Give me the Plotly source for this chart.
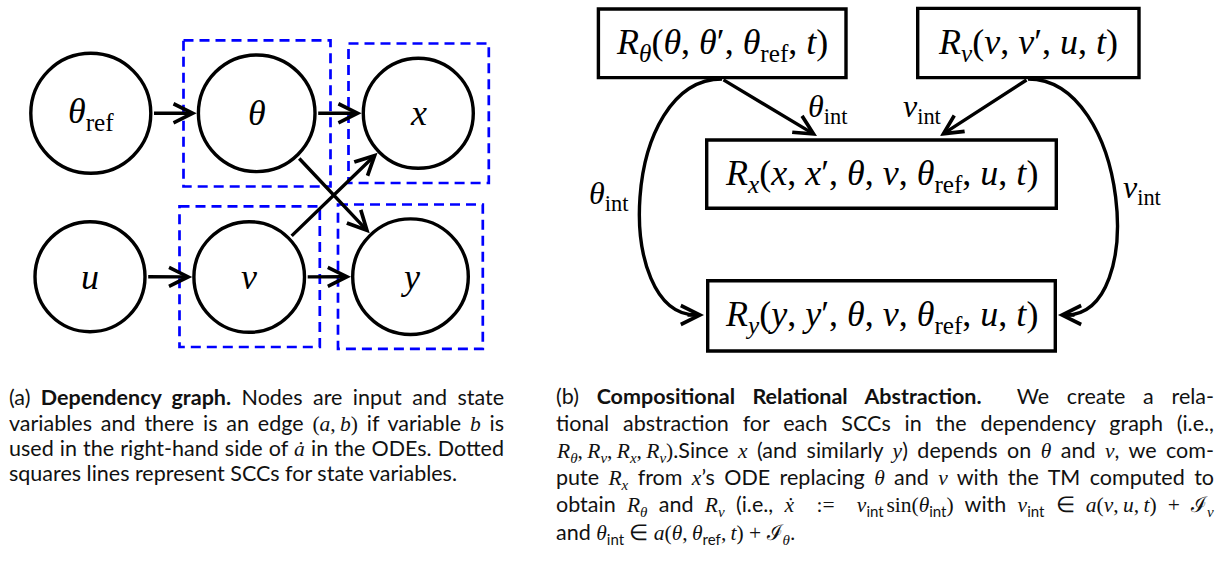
import json
import math
import re
import plotly.graph_objects as go

# ---------------- data ----------------
# Panel (a): dependency graph
node_ids = ["theta_ref", "theta", "x", "u", "v", "y"]
node_labels = ["<i>θ</i><sub>ref</sub>", "<i>θ</i>", "<i>x</i>", "<i>u</i>", "<i>v</i>", "<i>y</i>"]
edge_src_a = ["theta_ref", "theta", "theta", "v", "u", "v"]
edge_dst_a = ["theta", "x", "y", "x", "v", "y"]
scc_nodes = ["theta", "x", "v", "y"]

# Panel (b): compositional relational abstraction
rel_ids = ["R_theta", "R_v", "R_x", "R_y"]
rel_labels = [
    "<i>R</i><sub><i>θ</i></sub>(<i>θ</i>, <i>θ</i>′, <i>θ</i><sub>ref</sub>, <i>t</i>)",
    "<i>R</i><sub><i>v</i></sub>(<i>v</i>, <i>v</i>′, <i>u</i>, <i>t</i>)",
    "<i>R</i><sub><i>x</i></sub>(<i>x</i>, <i>x</i>′, <i>θ</i>, <i>v</i>, <i>θ</i><sub>ref</sub>, <i>u</i>, <i>t</i>)",
    "<i>R</i><sub><i>y</i></sub>(<i>y</i>, <i>y</i>′, <i>θ</i>, <i>v</i>, <i>θ</i><sub>ref</sub>, <i>u</i>, <i>t</i>)",
]
edge_src_b = ["R_theta", "R_v", "R_theta", "R_v"]
edge_dst_b = ["R_x", "R_x", "R_y", "R_y"]
edge_labels_b = ["<i>θ</i><sub>int</sub>", "<i>v</i><sub>int</sub>",
                 "<i>θ</i><sub>int</sub>", "<i>v</i><sub>int</sub>"]

SERIF = "Liberation Serif"
TS = "\u2009"   # thin space inside math (not stretched when justifying)


def m(s):
    return '<span style="font-family:Liberation Serif">' + s + '</span>'


caption_a = [
    "(a) <b>Dependency graph.</b> Nodes are input and state",
    "variables and there is an edge " + m("(<i>a</i>," + TS + "<i>b</i>)") + " if variable " + m("<i>b</i>") + " is",
    "used in the right-hand side of " + m("<i>ȧ</i>") + " in the ODEs. Dotted",
    "squares lines represent SCCs for state variables.",
]
caption_b = [
    "(b) <b>Compositional Relational Abstraction.</b>\u00a0 We create a rela-",
    "tional abstraction for each SCCs in the dependency graph (i.e.,",
    m("<i>R</i><sub><i>θ</i></sub>," + TS + "<i>R</i><sub><i>v</i></sub>," + TS + "<i>R</i><sub><i>x</i></sub>,"
      + TS + "<i>R</i><sub><i>v</i></sub>)")
    + ".Since " + m("<i>x</i>") + " (and similarly " + m("<i>y</i>") + ") depends on " + m("<i>θ</i>")
    + " and " + m("<i>v</i>") + ", we com-",
    "pute " + m("<i>R</i><sub><i>x</i></sub>") + " from " + m("<i>x</i>") + "’s ODE replacing "
    + m("<i>θ</i>") + " and " + m("<i>v</i>") + " with the TM computed to",
    "obtain " + m("<i>R</i><sub><i>θ</i></sub>") + " and " + m("<i>R</i><sub><i>v</i></sub>")
    + " (i.e., " + m("<i>ẋ</i> \u00a0:= \u00a0<i>v</i>") + "<sub>int</sub>" + TS + m("sin(<i>θ</i>")
    + "<sub>int</sub>" + m(")") + " with " + m("<i>v</i>") + "<sub>int</sub>"
    + m(" ∈ <i>a</i>(<i>v</i>," + TS + "<i>u</i>," + TS + "<i>t</i>) + ℐ<sub><i>v</i></sub>"),
    "and " + m("<i>θ</i>") + "<sub>int</sub>" + m(" ∈ <i>a</i>(<i>θ</i>," + TS + "<i>θ</i>")
    + "<sub>ref</sub>" + m("," + TS + "<i>t</i>) + ℐ<sub><i>θ</i></sub>."),
]
# which caption lines are justified (full width) in the reference
justify_a = [True, True, True, False]
justify_b = [True, True, True, True, True, False]

# ---------------- layout / geometry ----------------
W, H = 1225, 561
LW = 3.4
node_geom = {  # cx, cy, r
    "theta_ref": (90.8, 113.3, 60.0),
    "theta": (256.7, 113.3, 58.3),
    "x": (418.3, 113.3, 55.0),
    "u": (90.0, 276.7, 55.0),
    "v": (249.2, 277.0, 55.3),
    "y": (410.5, 276.7, 57.8),
}
scc_rect = {
    "theta": (183.5, 40.3, 330.5, 186.5),
    "x": (348.5, 43.5, 488.8, 183.0),
    "v": (179.5, 206.3, 319.8, 347.0),
    "y": (338.0, 204.5, 482.8, 348.8),
}
rel_rect = {
    "R_theta": (598.4, 9.0, 846.0, 77.6),
    "R_v": (917.7, 8.4, 1139.0, 77.6),
    "R_x": (706.7, 140.0, 1056.3, 208.3),
    "R_y": (707.7, 280.7, 1055.3, 351.0),
}
edge_geom_b = [
    dict(kind="line", pts=[(722, 79), (817, 136)], lab=(806, 108, "left")),
    dict(kind="line", pts=[(1028, 79), (940, 136)], lab=(944, 108, "right")),
    dict(kind="curve", pts=[(722, 79), (621, 79), (613, 315), (704, 315)], lab=(631, 195, "right")),
    dict(kind="curve", pts=[(1028, 79), (1128, 79), (1149, 315), (1058, 315)], lab=(1121, 189, "left")),
]
cap_a_x, cap_a_base, cap_a_step, cap_a_w = 7, 405.7, 25.3, 495
cap_b_x, cap_b_base, cap_b_step, cap_b_w = 554, 404.3, 27.1, 658
CAP_SIZE = 21.5

shapes = []
annotations = []


def arrow(tail, tip, head=5, size=1.1):
    annotations.append(dict(
        x=tip[0], y=tip[1], ax=tail[0], ay=tail[1], xref="x", yref="y",
        axref="x", ayref="y", text="", showarrow=True, arrowhead=head,
        arrowsize=size, arrowwidth=LW, arrowcolor="black", standoff=0,
        startstandoff=0))


# Panel (a) nodes
for nid, lab in zip(node_ids, node_labels):
    cx, cy, r = node_geom[nid]
    shapes.append(dict(type="circle", xref="x", yref="y", x0=cx - r, x1=cx + r,
                       y0=cy - r, y1=cy + r, line=dict(color="black", width=LW)))
    annotations.append(dict(x=cx, y=cy, xref="x", yref="y", text=lab, showarrow=False,
                            font=dict(family=SERIF, size=36, color="black"),
                            xanchor="center", yanchor="middle"))

# Panel (a) edges (circle edge to circle edge)
for s, d in zip(edge_src_a, edge_dst_a):
    x1, y1, r1 = node_geom[s]
    x2, y2, r2 = node_geom[d]
    L = math.hypot(x2 - x1, y2 - y1)
    ux, uy = (x2 - x1) / L, (y2 - y1) / L
    ro1, ro2 = r1 + LW / 2, r2 + LW / 2
    arrow((x1 + ux * ro1, y1 + uy * ro1), (x2 - ux * ro2, y2 - uy * ro2))

# Panel (a) SCC dashed squares
for nid in scc_nodes:
    x0, y0, x1, y1 = scc_rect[nid]
    shapes.append(dict(type="rect", xref="x", yref="y", x0=x0, x1=x1, y0=y0, y1=y1,
                       layer="above",
                       line=dict(color="#0000ff", width=2.7, dash="10px,6px")))

# Panel (b) boxes
for rid, lab in zip(rel_ids, rel_labels):
    x0, y0, x1, y1 = rel_rect[rid]
    shapes.append(dict(type="rect", xref="x", yref="y", x0=x0, x1=x1, y0=y0, y1=y1,
                       line=dict(color="black", width=LW)))
    annotations.append(dict(x=(x0 + x1) / 2, y=(y0 + y1) / 2 + 1, xref="x", yref="y", text=lab,
                            showarrow=False, font=dict(family=SERIF, size=36, color="black"),
                            xanchor="center", yanchor="middle"))

# Panel (b) edges
for lab, g in zip(edge_labels_b, edge_geom_b):
    p = g["pts"]
    if g["kind"] == "line":
        arrow(p[0], p[1])
    else:
        (a0, a1), (b0, b1), (c0, c1), (d0, d1) = p
        dx, dy = d0 - c0, d1 - c1
        L = math.hypot(dx, dy)
        ux, uy = dx / L, dy / L
        e0, e1 = d0 - ux * 8, d1 - uy * 8
        shapes.append(dict(type="path", xref="x", yref="y",
                           path=f"M{a0},{a1} C{b0},{b1} {c0},{c1} {e0},{e1}",
                           line=dict(color="black", width=LW)))
        arrow((d0 - ux * 18, d1 - uy * 18), (d0, d1))
    lx, ly, anc = g["lab"]
    annotations.append(dict(x=lx, y=ly, xref="x", yref="y", text=lab, showarrow=False,
                            font=dict(family=SERIF, size=32, color="black"),
                            xanchor=anc, yanchor="middle"))

# Captions (one annotation per line, anchored at top of line box)
ASC = 0.987 * CAP_SIZE + 2
for i, line in enumerate(caption_a):
    annotations.append(dict(x=cap_a_x, y=cap_a_base + i * cap_a_step - ASC, xref="x", yref="y",
                            text=line, showarrow=False, xanchor="left", yanchor="top",
                            font=dict(family="Lato", size=CAP_SIZE, color="#111111")))
for i, line in enumerate(caption_b):
    annotations.append(dict(x=cap_b_x, y=cap_b_base + i * cap_b_step - ASC, xref="x", yref="y",
                            text=line, showarrow=False, xanchor="left", yanchor="top",
                            font=dict(family="Lato", size=CAP_SIZE, color="#111111")))

# list of (line start, target width) used to justify the caption lines in the browser
just_targets = []
for lines, flags, w in ((caption_a, justify_a, cap_a_w), (caption_b, justify_b, cap_b_w)):
    for line, f in zip(lines, flags):
        if f:
            plain = re.sub(r"<[^>]+>", "", line)
            just_targets.append([plain[:14], w])

fig = go.Figure()
fig.update_layout(
    width=W, height=H, margin=dict(l=0, r=0, t=0, b=0),
    paper_bgcolor="white", plot_bgcolor="white", showlegend=False,
    xaxis=dict(range=[0, W], autorange=False, visible=False, fixedrange=True),
    yaxis=dict(range=[H, 0], autorange=False, visible=False, fixedrange=True),
    shapes=shapes, annotations=annotations,
)

post = (
    "document.body.style.margin='0';document.body.style.overflow='hidden';"
    "var gd=document.getElementById('{plot_id}');"
    "var J=" + json.dumps(just_targets) + ";"
    "gd.querySelectorAll('text.annotation-text').forEach(function(t){"
    " var s=t.textContent.replace(/[\\u200b\\u200c\\u200d\\ufeff]/g,'');"
    " J.forEach(function(j){"
    "  var p=j[0].replace(/[\\u200b\\u200c\\u200d\\ufeff]/g,'');"
    "  if(s.indexOf(p)===0){"
    "   var n=(s.match(/[ \\u00a0]/g)||[]).length;"
    "   var w=t.getBBox().width;"
    "   if(n>0&&w<j[1]){"
    "    var add=j[1]-w;"
    "    t.style.wordSpacing=(add/n)+'px';"
    "    var tr=t.getAttribute('transform')||'';"
    "    t.setAttribute('transform',tr+' translate('+(add/2)+',0)');"
    "   }"
    "  }"
    " });"
    "});"
)
fig.write_html("out.html", config={"displayModeBar": False, "staticPlot": True},
               post_script=post)
